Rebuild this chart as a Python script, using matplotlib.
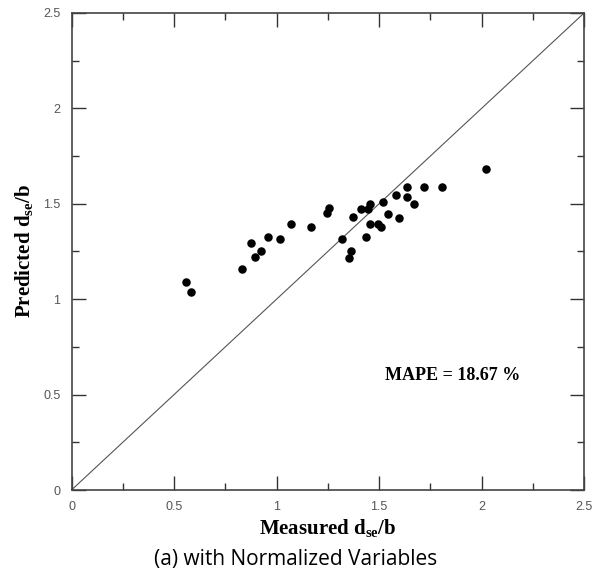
import numpy as np
import matplotlib.pyplot as plt

plt.rcParams['mathtext.fontset'] = 'custom'
plt.rcParams['mathtext.rm'] = 'Liberation Serif:bold'
plt.rcParams['mathtext.bf'] = 'Liberation Serif:bold'
plt.rcParams['mathtext.it'] = 'Liberation Serif:bold'

# measured vs predicted d_se/b
measured = [0.558, 0.581, 0.833, 0.873, 0.895, 0.925, 0.956, 1.016, 1.068,
            1.168, 1.247, 1.257, 1.317, 1.353, 1.361, 1.373, 1.413, 1.436,
            1.447, 1.457, 1.457, 1.493, 1.510, 1.521, 1.544, 1.583, 1.599,
            1.638, 1.638, 1.669, 1.721, 1.808, 2.022]
predicted = [1.092, 1.039, 1.158, 1.295, 1.221, 1.253, 1.326, 1.316, 1.395,
             1.380, 1.450, 1.478, 1.314, 1.216, 1.254, 1.429, 1.473, 1.324,
             1.471, 1.499, 1.393, 1.393, 1.377, 1.511, 1.447, 1.546, 1.424,
             1.590, 1.534, 1.499, 1.587, 1.587, 1.681]
ticks = [0, 0.5, 1, 1.5, 2, 2.5]
tick_labels = ['0', '0.5', '1', '1.5', '2', '2.5']
minor_ticks = [0.25, 0.75, 1.25, 1.75, 2.25]
mape_text = 'MAPE = 18.67 %'

fig = plt.figure(figsize=(6.01, 5.79), dpi=100)
ax = fig.add_axes([0.119, 0.1537, 0.853, 0.824])

ax.plot([0, 2.5], [0, 2.5], color='#555555', lw=0.8)
ax.scatter(measured, predicted, s=26, color='black', zorder=3)

ax.set_xlim(0, 2.5)
ax.set_ylim(0, 2.5)
ax.set_xticks(ticks)
ax.set_yticks(ticks)
ax.set_xticks(minor_ticks, minor=True)
ax.set_yticks(minor_ticks, minor=True)
ax.set_xticklabels(tick_labels, family='Liberation Sans')
ax.set_yticklabels(tick_labels, family='Liberation Sans')
ax.tick_params(which='both', direction='in', top=True, right=True,
               color='#333333', width=1)
ax.tick_params(which='major', length=10, labelsize=9, labelcolor='#555555')
ax.tick_params(axis='x', which='major', pad=8)
ax.tick_params(axis='y', which='major', pad=8)
ax.tick_params(which='minor', length=5)
for s in ax.spines.values():
    s.set_color('#444444')
    s.set_linewidth(1.2)

ax.set_xlabel(r'Measured d$_{se}$/b', family='Liberation Serif',
              fontsize=15, fontweight='bold', labelpad=3)
ax.set_ylabel(r'Predicted d$_{se}$/b', family='Liberation Serif',
              fontsize=15, fontweight='bold', labelpad=6)

ax.text(2.19, 0.60, mape_text, ha='right', va='center', family='Liberation Serif',
        fontsize=13, fontweight='bold')

fig.text(0.4925, 0.033, '(a) with Normalized Variables', ha='center', va='center',
         family='Open Sans', fontsize=15)

plt.savefig('out.png', dpi=100)
